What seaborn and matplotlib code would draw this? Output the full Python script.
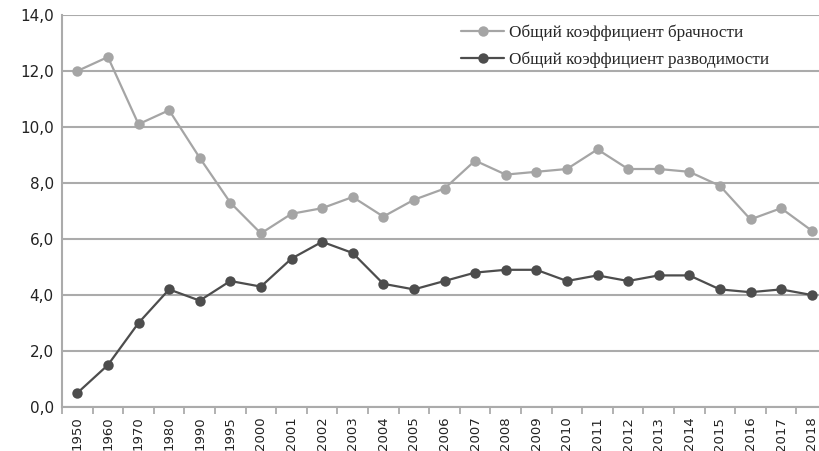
"""Marriage and divorce rates line chart (Excel-style grey scan)."""

import matplotlib.pyplot as plt
import numpy as np
import pandas as pd
import seaborn as sns
from matplotlib.ticker import FixedLocator, FuncFormatter

YEARS = ["1950", "1960", "1970", "1980", "1990", "1995", "2000", "2001",
         "2002", "2003", "2004", "2005", "2006", "2007", "2008", "2009",
         "2010", "2011", "2012", "2013", "2014", "2015", "2016", "2017",
         "2018"]
MARRIAGE = [12.0, 12.5, 10.1, 10.6, 8.9, 7.3, 6.2, 6.9, 7.1, 7.5, 6.8, 7.4,
            7.8, 8.8, 8.3, 8.4, 8.5, 9.2, 8.5, 8.5, 8.4, 7.9, 6.7, 7.1, 6.3]
DIVORCE = [0.5, 1.5, 3.0, 4.2, 3.8, 4.5, 4.3, 5.3, 5.9, 5.5, 4.4, 4.2, 4.5,
           4.8, 4.9, 4.9, 4.5, 4.7, 4.5, 4.7, 4.7, 4.2, 4.1, 4.2, 4.0]
LABELS = ["Общий коэффициент брачности", "Общий коэффициент разводимости"]

df = pd.DataFrame({"year": YEARS, "marriage": MARRIAGE, "divorce": DIVORCE})

sns.set_style("white")
fig = plt.figure(figsize=(8.19, 4.51), dpi=100)
ax = fig.add_axes([62 / 819, 44 / 451, 765 / 819, 392 / 451])

GRID = "#ababab"
for col, label, color in [("marriage", LABELS[0], "#a5a5a5"),
                          ("divorce", LABELS[1], "#4d4d4d")]:
    sns.lineplot(data=df, x="year", y=col, ax=ax, label=label, color=color,
                 marker="o", markersize=7.5, markeredgewidth=0,
                 linewidth=1.6, sort=False)

ax.set_xlim(-0.5, len(YEARS) - 0.5)
ax.set_ylim(0, 14)
ax.set_yticks(np.arange(0, 15, 2))
ax.yaxis.set_major_formatter(FuncFormatter(lambda v, _: f"{v:.1f}".replace(".", ",")))
ax.yaxis.grid(True, color=GRID, linewidth=1.5)
ax.set_axisbelow(True)
ax.set_xlabel("")
ax.set_ylabel("")

# category ticks sit between the labels, as in Excel
ax.set_xticks(range(len(YEARS)))
ax.set_xticklabels(YEARS, rotation=90, fontsize=9.5, color="#222222")
ax.xaxis.set_minor_locator(FixedLocator(np.arange(-0.5, len(YEARS), 1)))
ax.tick_params(axis="x", which="major", length=0, pad=7)
ax.tick_params(axis="x", which="minor", length=5, width=1.3, color=GRID,
               bottom=True)
ax.tick_params(axis="y", length=0, pad=6, labelsize=11, labelcolor="#222222")

for side in ["top", "right"]:
    ax.spines[side].set_visible(False)
for side in ["left", "bottom"]:
    ax.spines[side].set_color(GRID)
    ax.spines[side].set_linewidth(1.5)

leg = ax.legend(loc="upper left", bbox_to_anchor=(0.502, 1.015), frameon=False,
                prop={"family": "Liberation Serif", "size": 12.3},
                handlelength=2.5, labelspacing=0.62, handletextpad=0.3)

fig.savefig("out.png", dpi=100)
